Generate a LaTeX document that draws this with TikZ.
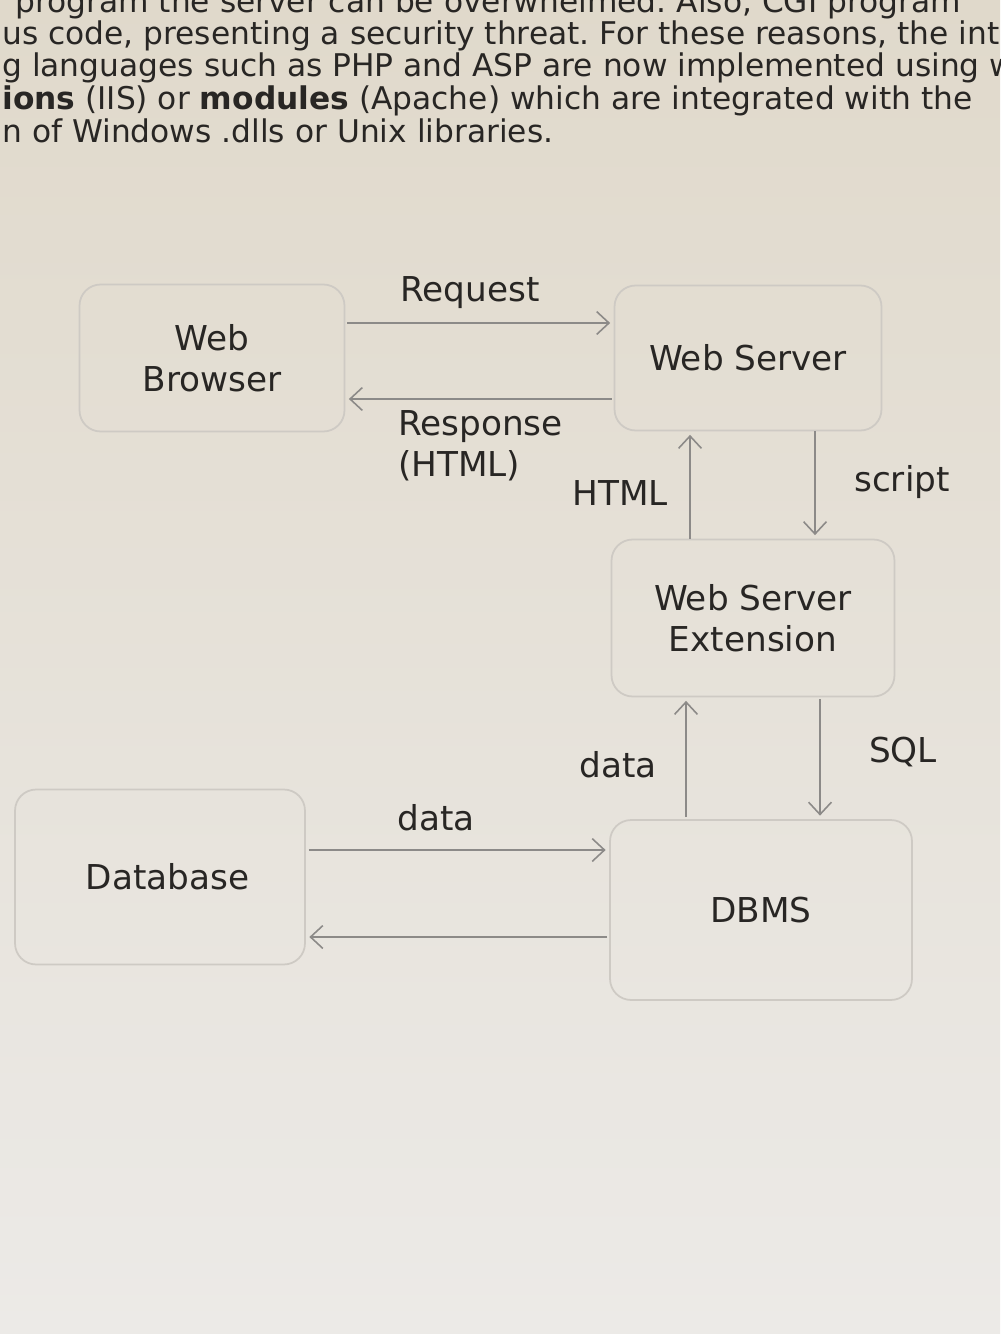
\documentclass[tikz,border=0pt]{standalone}
\usepackage{fontspec}
\setmainfont{DejaVu Sans}
\usepackage{xcolor}
\usepackage{tikz}
\usetikzlibrary{arrows.meta,calc}
\frenchspacing

\definecolor{paperTop}{RGB}{224,217,203}
\definecolor{paperMid}{RGB}{231,227,219}
\definecolor{paperBot}{RGB}{236,234,231}
\definecolor{boxEdge}{RGB}{206,202,196}
\definecolor{arrGray}{RGB}{140,138,136}
\definecolor{inkGray}{RGB}{40,38,36}

\begin{document}
\begin{tikzpicture}[
  x=0.02cm, y=-0.02cm,
  every node/.style={text=inkGray, font=\fontsize{19.5pt}{23.5pt}\selectfont},
  tierbox/.style={rounded corners=12pt, draw=boxEdge, line width=1pt, align=center},
  bodyline/.style={anchor=base west, inner sep=0pt, font=\fontsize{17.8pt}{21pt}\selectfont},
  lbl/.style={inner sep=1pt},
  arr/.style={-{Straight Barb[length=7pt, width=13pt]}, line width=0.9pt, draw=arrGray, shorten >=2pt},
]

% Page and clip
\shade[top color=paperTop, middle color=paperMid, bottom color=paperBot] (0,0) rectangle (1000,1334);
\clip (0,0) rectangle (1000,1334);

% Body text above the figure
\node[bodyline] (txta) at (15,13) {program the server can be overwhelmed. Also, CGI program};
\node[bodyline] (txtb) at (2,45) {us code, presenting a security threat. For these reasons, the int};
\node[bodyline] (txtc) at (2,77) {g languages such as PHP and ASP are now implemented using w};
\node[bodyline] (txtd) at (2,110) {\textbf{ions} (IIS) or \textbf{modules} (Apache) which are integrated with the};
\node[bodyline] (txte) at (2,143) {n of Windows .dlls or Unix libraries.};

% Row 1: browser and server
\node[tierbox, minimum width=5.3cm, minimum height=2.94cm] (browser) at (212,358) {Web\\Browser};
\node[tierbox, minimum width=5.34cm, minimum height=2.9cm] (server) at (748,358) {Web Server};

% Row 2: extension
\node[tierbox, minimum width=5.66cm, minimum height=3.14cm] (ext) at (753,618) {Web Server\\Extension};

% Row 3: database and DBMS
\node[tierbox, minimum width=5.8cm, minimum height=3.5cm] (db) at (160,877) {\hspace*{0.3cm}Database};
\node[tierbox, minimum width=6.04cm, minimum height=3.6cm] (dbms) at (761,910) {DBMS};

% Free ends
\coordinate (reqstart) at ($(browser.east)+(2,-35)$);
\coordinate (respstart) at ($(server.west)+(-2,41)$);
\coordinate (htmlfoot) at ($(ext.north)+(-63,0)$);
\coordinate (scripttop) at ($(server.south)+(67,0)$);
\coordinate (datafoot) at ($(dbms.north)+(-75,-2)$);
\coordinate (sqltop) at ($(ext.south)+(67,2)$);
\coordinate (dbout) at ($(db.east)+(3,-27)$);
\coordinate (dbin) at ($(dbms.west)+(-2,27)$);

% Arrows: browser <-> server
\draw[arr] (reqstart) -- (reqstart -| server.west);
\draw[arr] (respstart) -- (respstart -| browser.east);

% Arrows: server <-> extension
\draw[arr] (htmlfoot) -- (htmlfoot |- server.south);
\draw[arr] (scripttop) -- (scripttop |- ext.north);

% Arrows: extension <-> DBMS
\draw[arr] (datafoot) -- (datafoot |- ext.south);
\draw[arr] (sqltop) -- (sqltop |- dbms.north);

% Arrows: database <-> DBMS
\draw[arr] (dbout) -- (dbout -| dbms.west);
\draw[arr] (dbin) -- (dbin -| db.east);

% Labels
\node[lbl] (reqlbl) at (470,293) {Request};
\node[lbl, align=left, anchor=west] (resplbl) at (396,446) {Response\\(HTML)};
\node[lbl] (htmllbl) at (620,493) {HTML};
\node[lbl] (scriptlbl) at (902,482) {script};
\node[lbl] (datalbl) at (618,765) {data};
\node[lbl] (sqllbl) at (903,752) {SQL};
\node[lbl] (dblbl) at (436,818) {data};

\end{tikzpicture}
\end{document}
